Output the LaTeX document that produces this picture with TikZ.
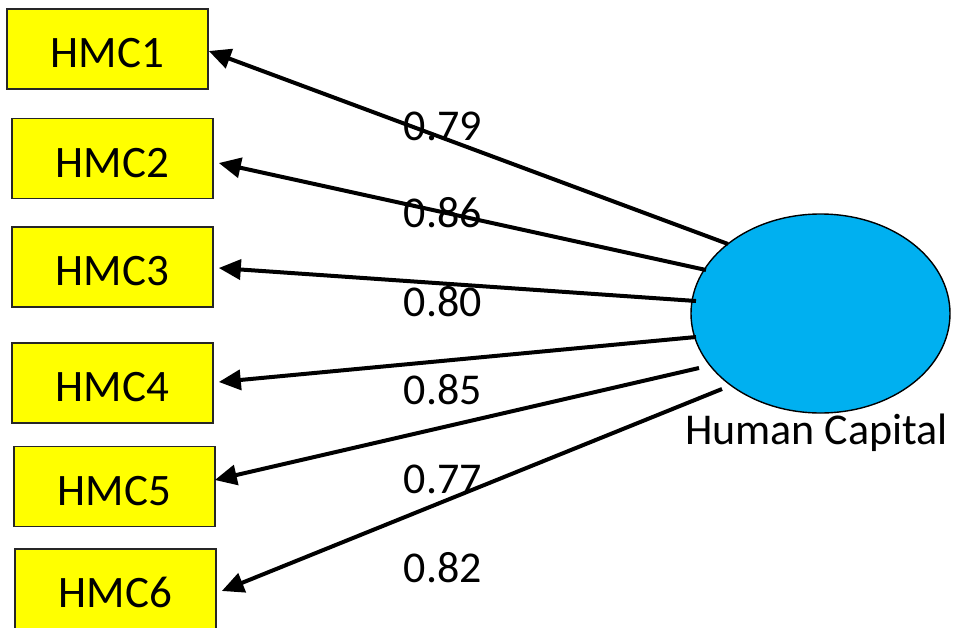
\documentclass[tikz,border=0pt]{standalone}
\usepackage{fontspec}
\setmainfont{Carlito}
\usetikzlibrary{arrows.meta,shapes.geometric}
\definecolor{boxyellow}{HTML}{FFFF00}
\definecolor{capblue}{HTML}{00B0F0}
\begin{document}
\begin{tikzpicture}[x=1pt,y=-1pt,
  ind/.style={draw=black!85,line width=1.6pt,fill=boxyellow,inner sep=0pt,
    minimum width=201pt,minimum height=80pt,text height=37pt,text depth=0pt,
    font=\fontsize{45}{50}\selectfont},
  lat/.style={ellipse,draw=black,line width=1.4pt,fill=capblue,inner sep=0pt,
    minimum width=259pt,minimum height=199pt},
  arr/.style={line width=4pt,-{Triangle[length=22pt,width=20pt]}},
  lbl/.style={inner sep=0pt,font=\fontsize{44}{50}\selectfont}]
\useasboundingbox (0,0) rectangle (956,627);
\clip (0,0) rectangle (956,627);
\node[ind] (b1) at (107.5,49) {HMC1};
\node[ind] (b2) at (112.5,158.5) {HMC2};
\node[ind] (b3) at (112.5,267) {HMC3};
\node[ind] (b4) at (112.5,383) {HMC4};
\node[ind] (b5) at (114.5,486.5) {HMC5};
\node[ind] (b6) at (115.5,589) {HMC6};
\node[lat] (hc) at (820.5,313.5) {};
\node[lbl,anchor=base] (hcl) at (816.5,444) {Human Capital};
\coordinate (t1) at (728,244);
\coordinate (t2) at (706,270);
\coordinate (t3) at (696,301);
\coordinate (t4) at (696,337);
\coordinate (t5) at (699,368);
\coordinate (t6) at (722,389);
\draw[arr] (t1) -- ([yshift=-2pt]b1.east);
\draw[arr] (t2) -- ([xshift=5pt,yshift=-4.5pt]b2.east);
\draw[arr] (t3) -- ([xshift=5pt,yshift=-1pt]b3.east);
\draw[arr] (t4) -- ([xshift=5pt,yshift=1pt]b4.east);
\draw[arr] (t5) -- ([xshift=-1pt,yshift=6.5pt]b5.east);
\draw[arr] (t6) -- ([xshift=5pt,yshift=-2pt]b6.east);
\node[lbl] (l1) at (443,126) {0.79};
\node[lbl] (l2) at (443,213) {0.86};
\node[lbl] (l3) at (443,302) {0.80};
\node[lbl] (l4) at (443,390) {0.85};
\node[lbl] (l5) at (443,479) {0.77};
\node[lbl] (l6) at (443,568) {0.82};
\end{tikzpicture}
\end{document}
